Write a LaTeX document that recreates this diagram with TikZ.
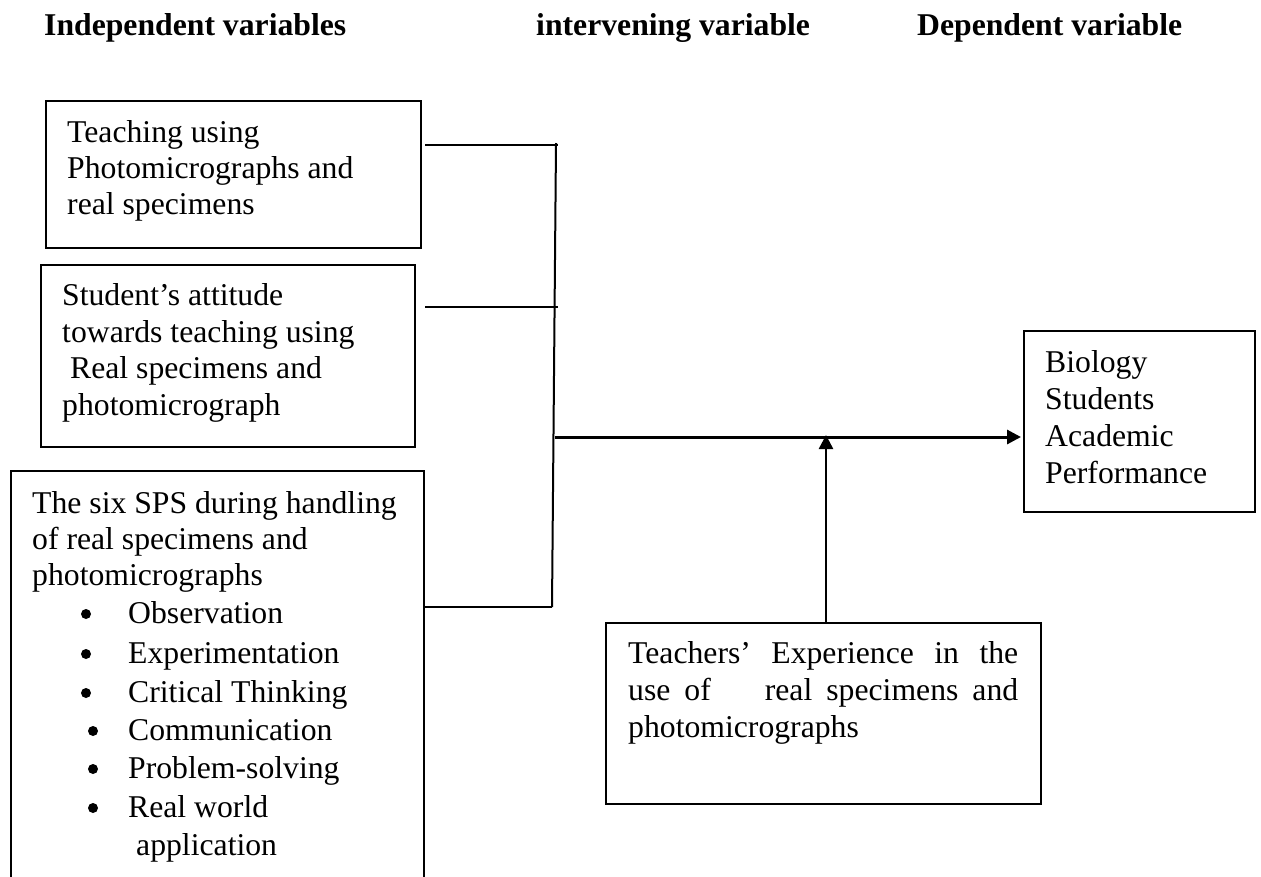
\documentclass[tikz,border=0pt]{standalone}
\usepackage{fontspec}
\setmainfont{Liberation Serif}
\usetikzlibrary{arrows.meta}
\begin{document}
\begin{tikzpicture}[x=1pt,y=-1pt,
  box/.style={draw, line width=2pt, inner sep=0pt, outer sep=0pt, anchor=north west},
  txt/.style={anchor=base west, inner sep=0pt, font=\fontsize{31.7pt}{37pt}\selectfont},
  head/.style={anchor=base west, inner sep=0pt, font=\fontsize{31.7pt}{37pt}\selectfont\bfseries},
  bul/.style={circle, fill=black, inner sep=0pt, minimum size=10pt},
  conn/.style={line width=2pt},
  arr/.style={line width=3pt, -{Triangle[length=14pt,width=14pt]}},
  arrv/.style={line width=2.5pt, -{Triangle[length=14pt,width=14pt]}},
]
\path[fill=white, use as bounding box] (0,0) rectangle (1261,876);

% headings
\node[head] (h1) at (44,35) {Independent variables};
\node[head] (h2) at (536,35) {intervening variable};
\node[head] (h3) at (917,35) {Dependent variable};

% boxes
\node[box, minimum width=375pt, minimum height=147pt] (b1) at (46,101) {};
\node[box, minimum width=374pt, minimum height=182pt] (b2) at (41,265) {};
\node[box, minimum width=413pt, minimum height=415pt] (b3) at (11,471) {};
\node[box, minimum width=231pt, minimum height=181pt] (b4) at (1024,331) {};
\node[box, minimum width=435pt, minimum height=181pt] (b5) at (606,623) {};

% box 1 text
\node[txt] (t1a) at (67,142) {Teaching using};
\node[txt] (t1b) at (67,178) {Photomicrographs and};
\node[txt] (t1c) at (67,214) {real specimens};

% box 2 text
\node[txt] (t2a) at (62,305) {Student’s attitude};
\node[txt] (t2b) at (62,342) {towards teaching using};
\node[txt] (t2c) at (70,378) {Real specimens and};
\node[txt] (t2d) at (62,415) {photomicrograph};

% box 3 text
\node[txt] (t3a) at (32,513) {The six SPS during handling};
\node[txt] (t3b) at (32,549) {of real specimens and};
\node[txt] (t3c) at (32,585) {photomicrographs};
\node[bul] (p1) at (86,614) {};
\node[bul] (p2) at (86,654) {};
\node[bul] (p3) at (86,693) {};
\node[bul] (p4) at (93,731) {};
\node[bul] (p5) at (93,769) {};
\node[bul] (p6) at (93,808) {};
\node[txt] (i1) at (128,623) {Observation};
\node[txt] (i2) at (128,663) {Experimentation};
\node[txt] (i3) at (128,702) {Critical Thinking};
\node[txt] (i4) at (128,740) {Communication};
\node[txt] (i5) at (128,778) {Problem-solving};
\node[txt] (i6) at (128,817) {Real world};
\node[txt] (i7) at (136,855) {application};

% biology box text
\node[txt] (t4a) at (1045,372) {Biology};
\node[txt] (t4b) at (1045,409) {Students};
\node[txt] (t4c) at (1045,446) {Academic};
\node[txt] (t4d) at (1045,483) {Performance};

% teacher box text
\node[txt] (t5a) at (628,663) {\makebox[390pt][s]{Teachers’ Experience in the}};
\node[txt] (t5b) at (628,700) {\makebox[390pt][s]{use of\hspace{40pt} real specimens and}};
\node[txt] (t5c) at (628,737) {photomicrographs};

% connectors
\coordinate (vtop) at (556,143);
\coordinate (vbot) at (552,607);
\coordinate (e1) at (558,145);
\coordinate (e2) at (558,307);
\coordinate (jm) at (555,437);
\coordinate (am) at (826,435);
\draw[conn] (vtop) -- (vbot);
\draw[conn, shorten <=4pt] (b1.east |- e1) -- (e1);
\draw[conn, shorten <=10pt] (b2.east |- e2) -- (e2);
\draw[conn] (b3.east |- vbot) -- (vbot);
\draw[arr, shorten >=3pt] (jm) -- (b4.west |- jm);
\draw[arrv] (b5.north -| am) -- (am);
\end{tikzpicture}
\end{document}
